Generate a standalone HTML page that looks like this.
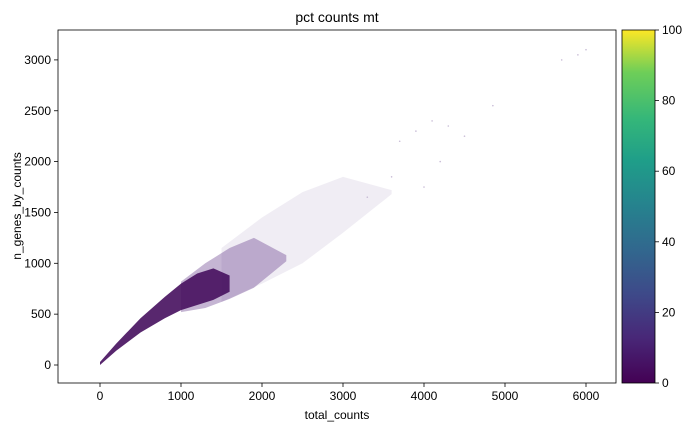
<!DOCTYPE html>
<html><head><meta charset="utf-8"><style>
body{margin:0;background:#fff;width:694px;height:434px;overflow:hidden;font-family:"Liberation Sans",sans-serif}
</style></head><body>
<svg width="694" height="434" xmlns="http://www.w3.org/2000/svg">
<defs><linearGradient id="vir" x1="0" y1="1" x2="0" y2="0">
<stop offset="0" stop-color="#440154"/><stop offset="0.13" stop-color="#482878"/><stop offset="0.25" stop-color="#3e4989"/><stop offset="0.38" stop-color="#31688e"/><stop offset="0.5" stop-color="#26828e"/><stop offset="0.63" stop-color="#1f9e89"/><stop offset="0.75" stop-color="#35b779"/><stop offset="0.88" stop-color="#6ece58"/><stop offset="1" stop-color="#fde725"/></linearGradient></defs>
<g id="plot"></g>
<rect x="58" y="30" width="558" height="353" fill="none" stroke="#000" stroke-width="0.8"/>
<text x="337" y="22" text-anchor="middle" font-size="14">pct counts mt</text>
<text x="337" y="419" text-anchor="middle" font-size="12">total_counts</text>
<text transform="translate(21,206) rotate(-90)" text-anchor="middle" font-size="12">n_genes_by_counts</text>
<rect x="622" y="30" width="33" height="353" fill="url(#vir)" stroke="#000" stroke-width="0.8"/>
<g id="axes"></g>
</svg>
<script>
const xTicks=[0,1000,2000,3000,4000,5000,6000];
const yTicks=[0,500,1000,1500,2000,2500,3000];
const cTicks=[0,20,40,60,80,100];
const denseX=[0,200,500,800,1000,1200,1400,1600];
const denseLo=[0,140,320,460,540,590,640,720];
const denseHi=[30,210,460,670,800,900,950,880];
const midX=[1000,1300,1600,1900,2300];
const midLo=[520,560,650,760,1020];
const midHi=[820,1000,1150,1250,1080];
const sparseX=[1500,2000,2500,3000,3600];
const sparseLo=[620,800,1000,1300,1680];
const sparseHi=[1150,1450,1700,1850,1720];
const outX=[3700,3900,4100,4300,4500,4850,5700,5900,6000,4000,3300,3600,4200];
const outY=[2200,2300,2400,2350,2250,2550,3000,3050,3100,1750,1650,1850,2000];
const ns='http://www.w3.org/2000/svg';
const X=v=>100+v*0.081, Y=v=>365-v*0.1017, C=v=>383-v*3.53;
const plot=document.getElementById('plot'), axes=document.getElementById('axes');
function band(xs,lo,hi,fill,op,name){
 let pts=xs.map((x,i)=>X(x)+','+Y(hi[i]));
 for(let i=xs.length-1;i>=0;i--)pts.push(X(xs[i])+','+Y(lo[i]));
 const p=document.createElementNS(ns,'polygon');p.setAttribute('points',pts.join(' '));
 p.setAttribute('fill',fill);p.setAttribute('fill-opacity',op);
 
 
 plot.appendChild(p);}
band(sparseX,sparseLo,sparseHi,'#6a4a90',0.1,'sparse-cells');
band(midX,midLo,midHi,'#5a2a80',0.35,'mid-density-cells');
band(denseX,denseLo,denseHi,'#46105e',0.9,'dense-cells');
outX.forEach((x,i)=>{const c=document.createElementNS(ns,'circle');c.setAttribute('cx',X(x));c.setAttribute('cy',Y(outY[i]));c.setAttribute('r',0.8);c.setAttribute('fill','#c8bcd6');


plot.appendChild(c);});
function tick(x1,y1,x2,y2){const l=document.createElementNS(ns,'line');l.setAttribute('x1',x1);l.setAttribute('y1',y1);l.setAttribute('x2',x2);l.setAttribute('y2',y2);l.setAttribute('stroke','#000');l.setAttribute('stroke-width','0.8');axes.appendChild(l);}
function label(x,y,t,a,name){const e=document.createElementNS(ns,'text');e.setAttribute('x',x);e.setAttribute('y',y);e.setAttribute('text-anchor',a);e.setAttribute('font-size','12');e.textContent=t;


axes.appendChild(e);}
xTicks.forEach(v=>{tick(X(v),383,X(v),387);label(X(v),400,v,'middle','x-tick-label');});
yTicks.forEach(v=>{tick(58,Y(v),54,Y(v));label(51,Y(v)+4,v,'end','y-tick-label');});
cTicks.forEach(v=>{tick(655,C(v),659,C(v));label(662,C(v)+4,v,'start','colorbar-tick-label');});
</script>
</body></html>
